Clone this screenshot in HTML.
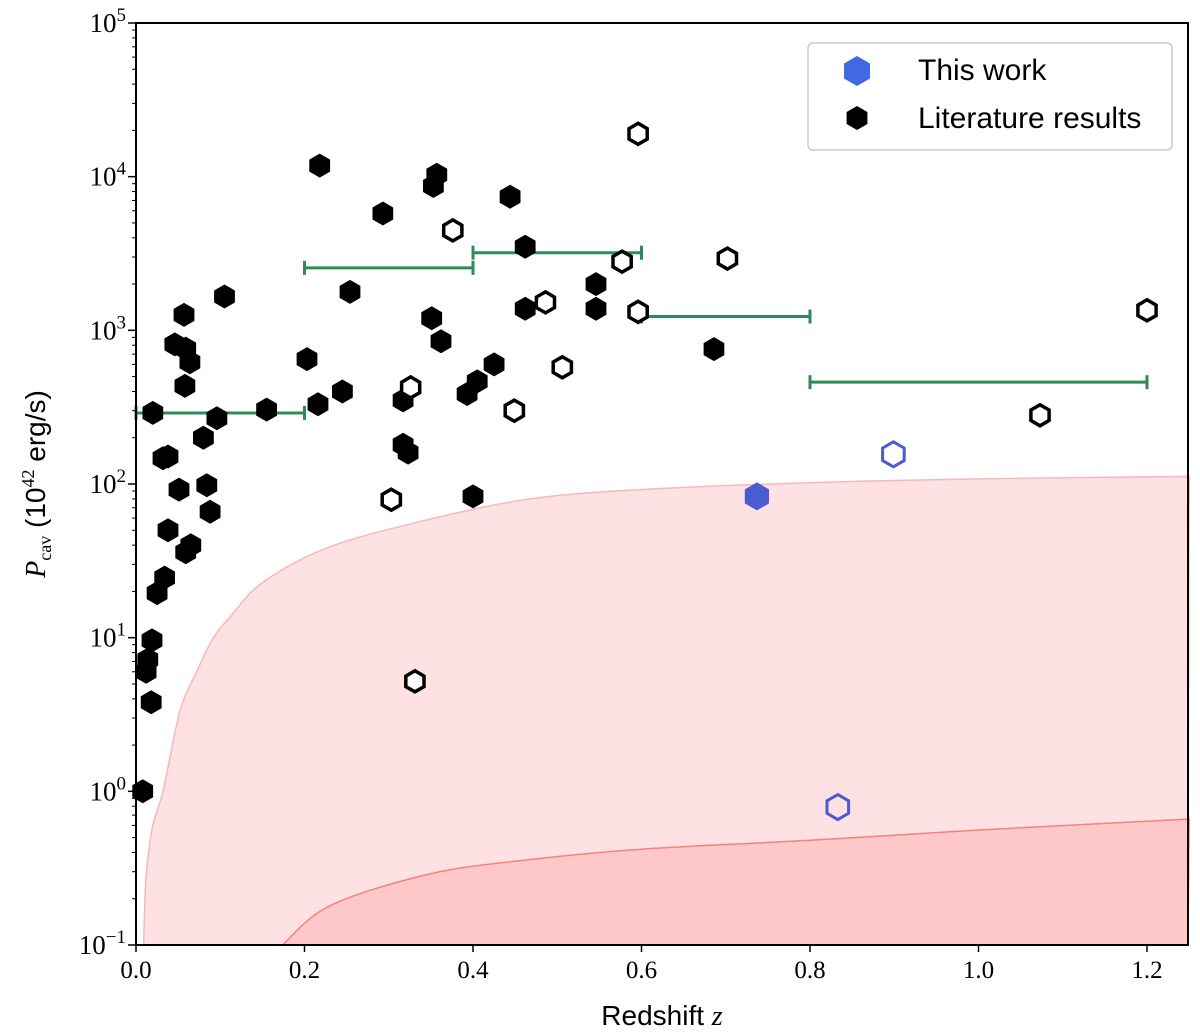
<!DOCTYPE html>
<html><head><meta charset="utf-8"><style>
body{margin:0;background:#fff;}
svg{display:block;font-family:"Liberation Serif",serif;}
</style></head><body>
<svg id="chart" width="1200" height="1033" viewBox="0 0 1200 1033"></svg>
<script>
const filledZ=[.008,.012,.014,.018,.019,.020,.025,.034,.038,.032,.038,.046,.051,.058,.057,.059,.064,.059,.065,.080,.084,.088,.096,.105,.155,.203,.216,.218,.245,.254,.293,.317,.317,.323,.351,.353,.357,.362,.393,.405,.400,.425,.444,.462,.462,.546,.546,.686];
const filledP=[1.0,6.0,7.2,3.8,9.6,290,19.5,24.6,50,147,151,810,92,435,1260,760,620,36,40,200,98,66,268,1660,305,650,330,11800,400,1780,5760,350,180,160,1200,8700,10300,850,385,465,83,600,7400,3500,1380,2000,1380,755];
const openZ=[.303,.326,.331,.376,.449,.486,.506,.577,.596,.596,.702,1.073,1.2];
const openP=[79,425,5.2,4470,300,1520,575,2800,1320,19000,2930,280,1350];
const thisFilledZ=[.737], thisFilledP=[83];
const thisOpenZ=[.899,.833], thisOpenP=[156,0.79];
const binLo=[0,.2,.4,.6,.8], binHi=[.2,.4,.6,.8,1.2], binP=[290,2550,3200,1230,460];
const limZ=[.009,.012,.02,.032,.052,.072,.091,.112,.151,.23,.349,.468,.6,.8,1.0,1.25];
const limP=[0.1,0.28,0.6,1.0,3.3,6.0,9.8,13.7,23,39,59,80,92,102,108,112];
const lim2Z=[.174,.23,.349,.468,.6,.8,1.0,1.25];
const lim2P=[0.1,0.18,0.29,0.36,0.42,0.48,0.56,0.66];
const xTicks=[0,.2,.4,.6,.8,1.0,1.2];
const xTickLabels=["0.0","0.2","0.4","0.6","0.8","1.0","1.2"];
const yExps=[-1,0,1,2,3,4,5];

const L=136,R=1188,T=23,B=945;
const X=z=>L+z*842.5;
const Y=p=>B-(Math.log10(p)+1)*(B-T)/6;
const svg=document.getElementById('chart');
const NS='http://www.w3.org/2000/svg';
function mk(tag,attrs,parent){const e=document.createElementNS(NS,tag);for(const k in attrs)e.setAttribute(k,attrs[k]);(parent||svg).appendChild(e);return e;}
function hexPts(cx,cy,r){let s=[];for(let i=0;i<6;i++){const a=Math.PI/180*(60*i-90);s.push((cx+r*Math.cos(a)).toFixed(1)+','+(cy+r*Math.sin(a)).toFixed(1));}return s.join(' ');}
function smooth(pts){let d='';for(let i=0;i<pts.length-1;i++){const p0=pts[Math.max(0,i-1)],p1=pts[i],p2=pts[i+1],p3=pts[Math.min(pts.length-1,i+2)];
const c1=[p1[0]+(p2[0]-p0[0])/6,p1[1]+(p2[1]-p0[1])/6],c2=[p2[0]-(p3[0]-p1[0])/6,p2[1]-(p3[1]-p1[1])/6];
d+=' C'+c1[0].toFixed(1)+','+c1[1].toFixed(1)+' '+c2[0].toFixed(1)+','+c2[1].toFixed(1)+' '+p2[0].toFixed(1)+','+p2[1].toFixed(1);}return d;}

let pts=limZ.map((z,i)=>[X(z),Y(limP[i])]);
let e=mk('path',{d:'M'+pts[0][0]+','+pts[0][1]+smooth(pts)+' L'+R+','+B+' Z',fill:'#fee2e3',stroke:'#fbb6b6','stroke-width':1.5});

pts=lim2Z.map((z,i)=>[X(z),Y(lim2P[i])]);
e=mk('path',{d:'M'+pts[0][0]+','+pts[0][1]+smooth(pts)+' L'+R+','+B+' Z',fill:'#fec8c8',stroke:'#f88080','stroke-width':1.5});


binP.forEach((p,i)=>{const g=mk('g',{stroke:'#2e8b57','stroke-width':3});

const y=Y(p),x1=X(binLo[i]),x2=X(binHi[i]);
mk('line',{x1:x1,x2:x2,y1:y,y2:y},g);
mk('line',{x1:x1,x2:x1,y1:y-7,y2:y+7},g);mk('line',{x1:x2,x2:x2,y1:y-7,y2:y+7},g);});

filledZ.forEach((z,i)=>{const h=mk('polygon',{points:hexPts(X(z),Y(filledP[i]),12),fill:'#000'});
});
openZ.forEach((z,i)=>{const h=mk('polygon',{points:hexPts(X(z),Y(openP[i]),10.5),fill:'#fff',stroke:'#000','stroke-width':3.5});
});
thisFilledZ.forEach((z,i)=>{const h=mk('polygon',{points:hexPts(X(z),Y(thisFilledP[i]),14),fill:'#4b5bd0'});
});
thisOpenZ.forEach((z,i)=>{const h=mk('polygon',{points:hexPts(X(z),Y(thisOpenP[i]),12.5),fill:'none',stroke:'#4b5bd0','stroke-width':3});
});

e=mk('rect',{x:L,y:T,width:R-L,height:B-T,fill:'none',stroke:'#000','stroke-width':2});


xTicks.forEach((t,i)=>{mk('line',{x1:X(t),x2:X(t),y1:B,y2:B+7,stroke:'#000','stroke-width':1.5});
const tx=mk('text',{x:X(t),y:B+33,'text-anchor':'middle','font-size':25});tx.textContent=xTickLabels[i];
});
yExps.forEach(k=>{const y=Y(Math.pow(10,k));mk('line',{x1:L-8,x2:L,y1:y,y2:y,stroke:'#000','stroke-width':1.5});
const tx=mk('text',{x:L-10,y:y+9,'text-anchor':'end','font-size':27});

tx.innerHTML='10<tspan dy="-11" font-size="19">'+(k<0?'−'+(-k):k)+'</tspan>';
if(k<5)for(let m=2;m<10;m++){const ym=Y(m*Math.pow(10,k));mk('line',{x1:L-4,x2:L,y1:ym,y2:ym,stroke:'#000','stroke-width':1});}});

e=mk('text',{x:(L+R)/2,y:1025,'text-anchor':'middle','font-size':28,'font-family':'Liberation Sans,sans-serif'});
e.innerHTML='Redshift <tspan font-style="italic" font-family="Liberation Serif,serif">z</tspan>';

e=mk('text',{x:0,y:0,'text-anchor':'middle','font-size':28,transform:'translate(45,484) rotate(-90)'});
e.innerHTML='<tspan font-style="italic">P</tspan><tspan font-size="18" dy="6">cav</tspan><tspan dy="-6" font-family="Liberation Sans,sans-serif"> (10</tspan><tspan dy="-11" font-size="18">42</tspan><tspan dy="11" font-family="Liberation Sans,sans-serif"> erg/s)</tspan>';


const lg=mk('g',{});
mk('rect',{x:808,y:43,width:364,height:107,rx:5,fill:'#fff',stroke:'#ccc','stroke-width':1.5},lg);
e=mk('polygon',{points:hexPts(857,71,15),fill:'#4169e1'},lg);

e=mk('polygon',{points:hexPts(857,118,12),fill:'#000'},lg);

e=mk('text',{x:918,y:80,'font-size':30,'font-family':'Liberation Sans,sans-serif'},lg);e.textContent='This work';

e=mk('text',{x:918,y:128,'font-size':30,'font-family':'Liberation Sans,sans-serif'},lg);e.textContent='Literature results';

</script>
</body></html>
